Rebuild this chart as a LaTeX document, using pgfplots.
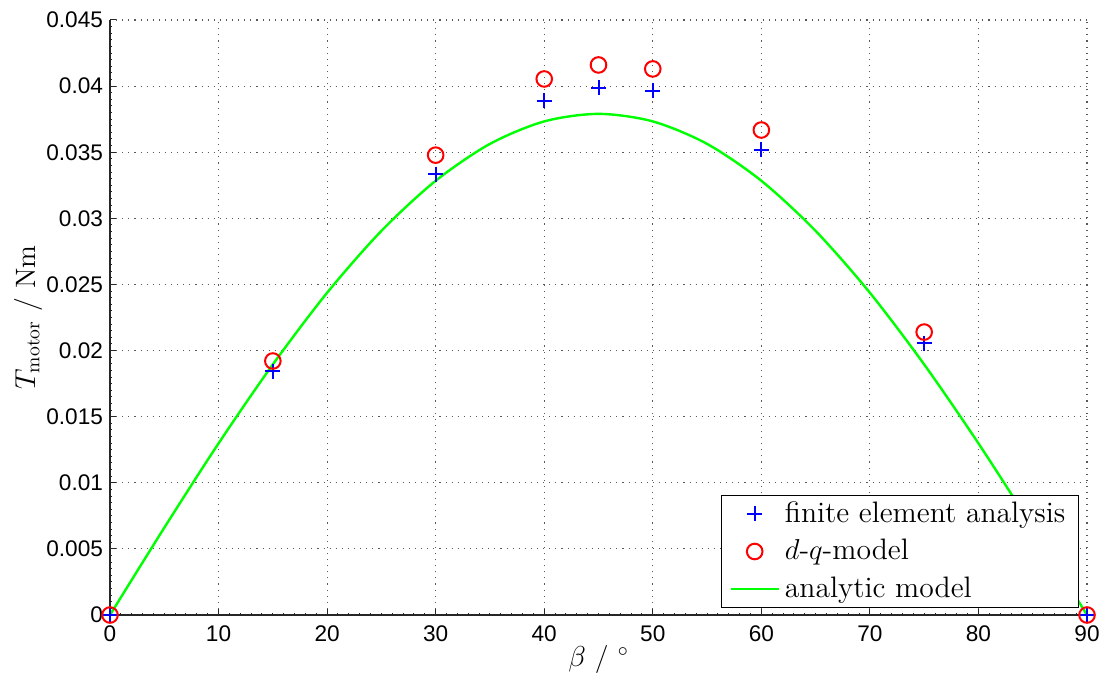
\documentclass[border=0pt]{standalone}
\usepackage{fontspec}
\usepackage{pgfplots}
\pgfplotsset{compat=1.18}
\newfontfamily\ticksans{Liberation Sans}

% Finite element results: beta in degrees, torque in Nm
\pgfplotstableread{
beta torque
0  0
15 0.01845
30 0.03334
40 0.03890
45 0.03986
50 0.03965
60 0.03518
75 0.02057
90 0
}\femdata

% d-q model results
\pgfplotstableread{
beta torque
0  0
15 0.01921
30 0.03478
40 0.04054
45 0.04160
50 0.04130
60 0.03668
75 0.02140
90 0
}\dqdata

% Analytic model curve
\pgfplotstableread{
beta torque
0  0
5  0.00660
10 0.01298
15 0.01895
20 0.02437
25 0.02905
30 0.03284
35 0.03563
40 0.03733
45 0.03790
50 0.03733
55 0.03563
60 0.03284
65 0.02905
70 0.02437
75 0.01895
80 0.01298
85 0.00660
90 0
}\analyticdata

\begin{document}
\begin{tikzpicture}
\begin{axis}[
  name=ax,
  scale only axis,
  width=488.5pt, height=297.5pt,
  xmin=0, xmax=90, ymin=0, ymax=0.045,
  clip=false,
  scaled x ticks=false, scaled y ticks=false,
  axis x line*=bottom, axis y line*=left,
  x axis line style={-, line width=0.6pt, black!85},
  y axis line style={-, line width=0.6pt, black!85},
  xtick={0,10,...,90},
  xticklabels={0,10,20,30,40,50,60,70,80,90},
  ytick={0,0.005,0.01,0.015,0.02,0.025,0.03,0.035,0.04,0.045},
  yticklabels={0,0.005,0.01,0.015,0.02,0.025,0.03,0.035,0.04,0.045},
  minor x tick num=9, minor y tick num=9,
  tick align=inside,
  major tick length=3pt,
  minor tick length=1pt,
  every tick/.style={black!85, line width=0.5pt},
  tick label style={font=\ticksans\fontsize{11.3}{13}\selectfont},
  xticklabel style={yshift=-2pt},
  grid=major,
  major grid style={black!65, line width=0.55pt, dash pattern=on 0.55pt off 2.5pt},
  xlabel={$\beta$ / $^\circ$},
  ylabel={$T_{\mathrm{motor}}$ / Nm},
  label style={font=\fontsize{14}{16}\selectfont},
  xlabel style={at={(axis description cs:0.5,-0.0756)}, anchor=center},
  ylabel style={at={(axis description cs:-0.0839,0.5)}, anchor=center},
  legend image code/.code={\draw[mark repeat=2,mark phase=2,#1] plot coordinates {(0pt,0pt) (12pt,0pt) (24pt,0pt)};},
  legend cell align=left,
  legend style={
    at={(axis description cs:0.9918,0.0118)}, anchor=south east,
    draw=black, line width=0.6pt, fill=white,
    font=\fontsize{14.8}{17}\selectfont,
    inner xsep=4pt, inner ysep=0.5pt,
    row sep=1.3pt,
    nodes={inner sep=2.5pt, text depth=0.5ex},
  },
]
\addplot[only marks, mark=+, mark size=3.75pt, blue, line width=1pt] table[x=beta, y=torque] {\femdata};
\addlegendentry{finite element analysis}
\addplot[only marks, mark=o, mark size=3.9pt, red, line width=1pt] table[x=beta, y=torque] {\dqdata};
\addlegendentry{$d$-$q$-model}
\addplot[smooth, color={rgb,255:red,0;green,255;blue,0}, line width=1.2pt, mark=none] table[x=beta, y=torque] {\analyticdata};
\addlegendentry{analytic model}
\end{axis}
\pgfresetboundingbox
\path ([xshift=-55pt,yshift=-32pt]ax.south west) rectangle ([xshift=9pt,yshift=10pt]ax.north east);
\end{tikzpicture}
\end{document}
